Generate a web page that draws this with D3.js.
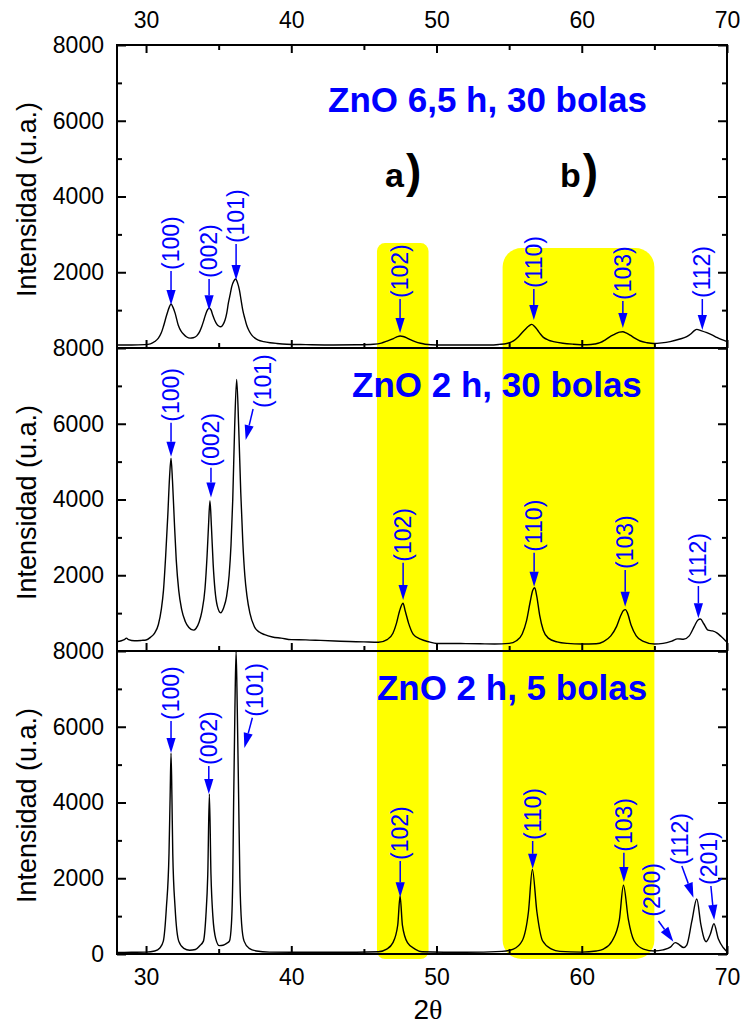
<!DOCTYPE html>
<html><head><meta charset="utf-8">
<script src="https://cdn.jsdelivr.net/npm/d3@7"></script>
<style>
html,body{margin:0;padding:0;background:#fff;}
svg{display:block;}
text{font-family:"Liberation Sans",Arial,Helvetica,sans-serif;}
</style></head>
<body>
<svg id="chart" width="741" height="1025"></svg>
<script>
// ---------- DATA ----------
const xMajorTicks = [30, 40, 50, 60, 70];
const xMinorTicks = [35, 45, 55, 65];
const yMajorTicks = [0, 2000, 4000, 6000, 8000];
const yMinorTicks = [1000, 3000, 5000, 7000];
const panelTitles = ["ZnO 6,5 h, 30 bolas", "ZnO 2 h, 30 bolas", "ZnO 2 h, 5 bolas"];
const highlightRanges = [[45.9, 49.45], [54.55, 65.0]];
const highlightTop = [2770, 2640]; // intensity in top panel

// ZnO 6,5 h, 30 bolas  [2theta, intensity]
const spec65h30 = [[28.0,80],[29.0,80],[29.9,90],[30.3,110],[30.6,170],[30.85,260],[31.05,400],[31.19,560],[31.42,870],[31.6,1080],[31.72,1160],[31.85,1080],[32.0,920],[32.22,600],[32.4,450],[32.57,370],[32.8,290],[33.03,260],[33.25,270],[33.49,320],[33.7,440],[33.83,560],[34.0,760],[34.13,920],[34.25,1020],[34.36,1060],[34.48,1000],[34.59,870],[34.72,740],[34.87,630],[35.0,580],[35.14,560],[35.3,620],[35.44,740],[35.56,930],[35.67,1190],[35.8,1430],[35.9,1620],[36.05,1770],[36.17,1820],[36.3,1720],[36.43,1530],[36.55,1250],[36.66,1000],[36.8,780],[36.93,600],[37.1,450],[37.28,340],[37.5,260],[37.73,210],[38.1,170],[38.54,140],[39.0,120],[39.69,100],[41,90],[42.9,80],[44.5,85],[45.66,100],[46.2,130],[46.57,180],[47.03,250],[47.3,300],[47.49,317],[47.7,305],[47.95,270],[48.2,220],[48.52,170],[48.9,125],[49.21,100],[50.02,80],[51.5,80],[53.69,80],[54.3,95],[54.84,120],[55.3,190],[55.64,300],[55.9,410],[56.1,490],[56.35,580],[56.56,625],[56.75,570],[56.95,475],[57.15,370],[57.36,280],[57.7,210],[58.05,170],[58.7,125],[59.43,100],[60.35,85],[60.9,105],[61.26,140],[61.6,210],[61.95,300],[62.2,350],[62.41,390],[62.6,420],[62.83,430],[63.05,400],[63.33,340],[63.65,260],[64.02,185],[64.5,140],[64.94,120],[65.5,135],[66.09,170],[66.7,230],[67.23,300],[67.5,370],[67.75,460],[67.92,493],[68.2,460],[68.61,405],[69.0,340],[69.3,280],[69.65,220],[70.0,170]];

// ZnO 2 h, 30 bolas
const spec2h30 = [[28.0,250],[28.3,270],[28.5,300],[28.65,340],[28.8,300],[29.2,270],[29.7,280],[30.0,290],[30.3,360],[30.6,480],[30.85,700],[31.05,1100],[31.2,1600],[31.35,2500],[31.5,3600],[31.62,4600],[31.72,5090],[31.82,4500],[31.95,3400],[32.08,2400],[32.25,1600],[32.45,1100],[32.7,780],[32.95,620],[33.26,550],[33.45,600],[33.65,760],[33.85,1050],[34.06,1650],[34.2,2500],[34.3,3300],[34.4,3970],[34.5,3300],[34.62,2300],[34.75,1600],[34.9,1200],[35.14,1010],[35.35,1150],[35.55,1450],[35.72,2000],[35.85,2800],[35.97,4000],[36.1,5900],[36.24,7170],[36.38,5900],[36.52,4200],[36.66,2900],[36.8,2000],[36.95,1450],[37.15,1000],[37.46,640],[37.8,500],[38.17,430],[38.7,370],[39.3,340],[40,300],[41,295],[42,280],[43,265],[44,250],[45,240],[46,230],[46.6,300],[47.0,470],[47.24,730],[47.45,1050],[47.69,1262],[47.85,1050],[48.08,730],[48.4,440],[48.9,311],[49.5,240],[50,200],[51,200],[52,195],[53,190],[54,185],[55,200],[55.5,270],[55.9,450],[56.2,800],[56.45,1300],[56.62,1600],[56.76,1670],[56.9,1450],[57.1,950],[57.35,550],[57.7,340],[58.3,240],[59,200],[60,185],[61,190],[61.5,250],[62.0,400],[62.4,650],[62.7,950],[62.87,1070],[63.01,1093],[63.15,1000],[63.4,680],[63.75,400],[64.2,260],[65,185],[65.6,200],[66.2,260],[66.6,320],[67.0,310],[67.4,400],[67.75,650],[68.0,820],[68.17,845],[68.4,720],[68.7,550],[69.0,530],[69.3,480],[69.6,380],[70,230]];

// ZnO 2 h, 5 bolas
const spec2h5 = [[28,40],[29,45],[30,50],[30.6,80],[30.95,160],[31.19,340],[31.4,1220],[31.58,2650],[31.66,4200],[31.72,5300],[31.78,4200],[31.84,2650],[32.0,1220],[32.25,340],[32.6,150],[33.0,100],[33.4,120],[33.7,220],[33.95,340],[34.12,1000],[34.25,2100],[34.36,4224],[34.47,2100],[34.6,1000],[34.8,400],[35.05,220],[35.3,230],[35.55,280],[35.74,340],[35.88,800],[35.97,2000],[36.03,4000],[36.12,6500],[36.2,8000],[36.28,6500],[36.38,4000],[36.46,2000],[36.58,800],[36.75,340],[37.1,150],[37.6,80],[38.5,50],[40,45],[43,45],[46,60],[46.57,130],[47.0,300],[47.33,765],[47.49,1530],[47.65,765],[48.0,300],[48.52,130],[49,60],[52,45],[54.5,70],[55.29,130],[55.9,350],[56.33,1115],[56.6,2230],[56.91,1115],[57.3,350],[57.93,130],[58.5,70],[60,50],[61.0,80],[61.49,130],[62.1,350],[62.59,907],[62.87,1815],[63.21,907],[63.6,350],[64.25,130],[65,80],[65.6,110],[66.1,180],[66.43,300],[66.7,250],[67.0,170],[67.23,237],[67.58,868],[67.92,1452],[68.2,780],[68.45,380],[68.56,325],[68.85,520],[69.1,800],[69.4,400],[69.75,165],[70,60]];

// Peak labels: [label, textX, textBottomI, arrowStartX, arrowStartI, tipX, tipI]
const labels65h30 = [["(100)",31.72,2060,31.72,2060,31.72,1135],["(002)",34.34,1850,34.34,1850,34.34,1000],["(101)",36.2,2770,36.2,2770,36.2,1795],["(102)",47.49,1320,47.49,1320,47.49,396],["(110)",56.7,1584,56.7,1584,56.7,740],["(103)",62.83,1267,62.83,1267,62.83,528],["(112)",68.3,1320,68.3,1320,68.3,475]];
const labels2h30 = [["(100)",31.72,6054,31.72,6054,31.72,5130],["(002)",34.47,4866,34.47,4866,34.47,4050],["(101)",38.06,6415,37.37,6415,36.86,5570],["(102)",47.7,2357,47.7,2357,47.7,1346],["(110)",56.72,2622,56.72,2622,56.72,1698],["(103)",62.99,2165,62.99,2165,62.99,1170],["(112)",68.03,1742,68.03,1742,68.03,863]];
const labels2h5 = [["(100)",31.72,6178,31.72,6178,31.72,5306],["(002)",34.32,4990,34.32,4990,34.32,4224],["(101)",37.5,6265,37.32,6265,36.77,5441],["(102)",47.5,2482,47.5,2482,47.5,1500],["(110)",56.62,3010,56.62,3010,56.62,2250],["(103)",62.9,2700,62.9,2700,62.9,1900],["(200)",64.81,985,65.28,898,66.31,325],["(112)",66.77,2350,66.89,2350,67.69,1486],["(201)",68.73,1822,68.89,1822,69.12,898]];

const titlePos = [[53.51,6238],[54.16,6706],[55.2,6706]]; // [x, intensity] of title centre/baseline

// ---------- LAYOUT ----------
const W = 741, H = 1025;
const left = 117, right = 727;
const panelTops = [45, 348, 651];
const panelH = 303;
const BLUE = "#0000ff";

const svg = d3.select("#chart");
svg.append("rect").attr("width", W).attr("height", H).attr("fill", "#fff");

const x = d3.scaleLinear().domain([28, 70]).range([left, right]);
const yScales = panelTops.map(t => d3.scaleLinear().domain([0, 8000]).range([t + panelH, t]));

// yellow highlights (behind everything)
const hlG = svg.append("g");
const hlBottom = panelTops[2] + panelH + 5;
const hlRadius = [8, 19];
highlightRanges.forEach((r, i) => {
  const yTop = yScales[0](highlightTop[i]);
  hlG.append("rect")
    .attr("x", x(r[0])).attr("width", x(r[1]) - x(r[0]))
    .attr("y", yTop).attr("height", hlBottom - yTop)
    .attr("rx", hlRadius[i]).attr("ry", hlRadius[i])
    .attr("fill", "#ffff00");
});

const series = [spec65h30, spec2h30, spec2h5];
const labelSets = [labels65h30, labels2h30, labels2h5];

const line = d3.line().curve(d3.curveMonotoneX);

function arrow(g, x1, y1, x2, y2) {
  const dx = x2 - x1, dy = y2 - y1, L = Math.hypot(dx, dy);
  const ux = dx / L, uy = dy / L;
  const hl = 15, hw = 4.6;
  const bx = x2 - ux * hl, by = y2 - uy * hl;
  g.append("line").attr("x1", x1).attr("y1", y1).attr("x2", bx).attr("y2", by)
    .attr("stroke", BLUE).attr("stroke-width", 1.5);
  g.append("path").attr("d", `M${x2},${y2}L${bx - uy * hw},${by + ux * hw}L${bx + uy * hw},${by - ux * hw}Z`)
    .attr("fill", BLUE);
}

yScales.forEach((y, p) => {
  const g = svg.append("g");
  const top = panelTops[p], bottom = top + panelH;

  // minor y ticks left & right
  g.append("g").attr("transform", `translate(${left},0)`)
    .call(d3.axisLeft(y).tickValues(yMinorTicks).tickSize(-5).tickFormat(""));
  g.append("g").attr("transform", `translate(${right},0)`)
    .call(d3.axisRight(y).tickValues(yMinorTicks).tickSize(-5).tickFormat(""));
  // major y ticks
  const yMaj = p === 2 ? yMajorTicks : yMajorTicks.filter(v => v > 0);
  g.append("g").attr("class", "ylab").attr("transform", `translate(${left},0)`)
    .call(d3.axisLeft(y).tickValues(yMaj).tickSizeInner(-9).tickSizeOuter(0).tickPadding(13).tickFormat(d3.format("d")));
  g.append("g").attr("transform", `translate(${right},0)`)
    .call(d3.axisRight(y).tickValues(yMajorTicks).tickSizeInner(-9).tickSizeOuter(0).tickFormat(""));

  // bottom x ticks (inward)
  g.append("g").attr("transform", `translate(0,${bottom})`)
    .call(d3.axisBottom(x).tickValues(xMinorTicks).tickSize(-5).tickFormat(""));
  g.append("g").attr("class", p === 2 ? "xlab" : "").attr("transform", `translate(0,${bottom})`)
    .call(d3.axisBottom(x).tickValues(xMajorTicks).tickSizeInner(-8).tickSizeOuter(0).tickPadding(15)
      .tickFormat(p === 2 ? d3.format("d") : ""));
  if (p === 0) {
    g.append("g").attr("transform", `translate(0,${top})`)
      .call(d3.axisTop(x).tickValues(xMinorTicks).tickSize(-5).tickFormat(""));
    g.append("g").attr("class", "xlab").attr("transform", `translate(0,${top})`)
      .call(d3.axisTop(x).tickValues(xMajorTicks).tickSizeInner(-8).tickSizeOuter(0).tickPadding(17).tickFormat(d3.format("d")));
  }
  g.selectAll(".domain").remove();
  g.selectAll(".tick line").attr("stroke", "#000").attr("stroke-width", 2);

  // frame
  g.append("rect").attr("x", left).attr("y", top).attr("width", right - left).attr("height", panelH)
    .attr("fill", "none").attr("stroke", "#000").attr("stroke-width", 2);

  // data
  g.append("path").attr("d", line(series[p].map(d => [x(d[0]), y(d[1])])))
    .attr("fill", "none").attr("stroke", "#000").attr("stroke-width", 1.4).attr("stroke-linejoin", "round");

  // peak labels
  labelSets[p].forEach(l => {
    const tx = x(l[1]), ty = y(l[2]);
    g.append("text").attr("transform", `translate(${tx},${ty}) rotate(-90)`)
      .attr("dy", "0.35em").attr("text-anchor", "start")
      .attr("font-size", 23).attr("fill", BLUE).text(l[0]);
    arrow(g, x(l[3]), y(l[4]) + 1, x(l[5]), y(l[6]));
  });

  // title
  g.append("text").attr("x", x(titlePos[p][0])).attr("y", y(titlePos[p][1]))
    .attr("text-anchor", "middle").attr("font-size", 35).attr("font-weight", "bold")
    .attr("fill", BLUE).text(panelTitles[p]);

  // y axis title
  g.append("text").attr("transform", `translate(36,${(top + bottom) / 2 + 3}) rotate(-90)`)
    .attr("text-anchor", "middle").attr("font-size", 27).attr("fill", "#000").text("Intensidad (u.a.)");
});

svg.selectAll(".ylab text, .xlab text").attr("font-size", 23).attr("fill", "#000")
  .attr("font-family", '"Liberation Sans",Arial,sans-serif');

// a) b) markers
const abLabels = [["a", 46.45], ["b", 58.5]];
abLabels.forEach(a => {
  const t = svg.append("text").attr("x", x(a[1])).attr("y", yScales[0](4258))
    .attr("font-weight", "bold").attr("fill", "#000");
  t.append("tspan").attr("font-size", 34).text(a[0]);
  t.append("tspan").attr("font-size", 46).attr("dx", 2).text(")");
});

// x axis title
const xt = svg.append("text").attr("x", (left + right) / 2 + 6).attr("y", 1019)
  .attr("text-anchor", "middle").attr("font-size", 28).attr("fill", "#000");
xt.append("tspan").text("2");
xt.append("tspan").attr("font-family", '"Liberation Serif","DejaVu Serif",serif').text("θ");
</script>
</body></html>
